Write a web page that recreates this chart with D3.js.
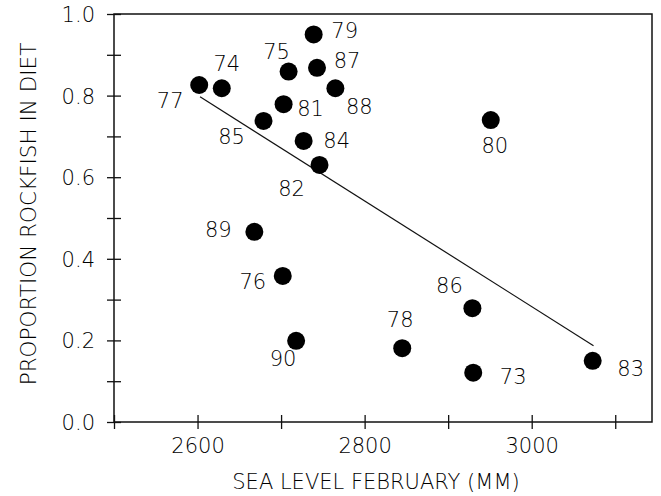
<!DOCTYPE html>
<html>
<head>
<meta charset="utf-8">
<script src="https://cdn.jsdelivr.net/npm/d3@7"></script>
<style>
  html, body { margin: 0; padding: 0; background: #fff; }
  svg text { font-family: "DejaVu Sans", "Liberation Sans", sans-serif; fill: #000; }
</style>
</head>
<body>
<svg id="chart" width="661" height="496"></svg>
<script>
// Year labels and observed values
const years      = ["73","74","75","76","77","78","79","80","81","82","83","84","85","86","87","88","89","90"];
const seaLevel   = [2930, 2629, 2709, 2702, 2602, 2845, 2739, 2951, 2703, 2746, 3073, 2727, 2679, 2929, 2743, 2765, 2668, 2718];
const rockfish   = [0.121, 0.818, 0.859, 0.358, 0.826, 0.181, 0.950, 0.740, 0.779, 0.630, 0.150, 0.689, 0.738, 0.279, 0.868, 0.818, 0.466, 0.199];

// Fitted regression line endpoints
const fitX = [2603, 3074];
const fitY = [0.797, 0.187];

// Axis ticks
const xTicks = [2500, 2600, 2700, 2800, 2900, 3000, 3100];
const xTickLabels = ["2600", "2800", "3000"];
const yTicks = [0.0, 0.1, 0.2, 0.3, 0.4, 0.5, 0.6, 0.7, 0.8, 0.9, 1.0];
const yTickLabels = ["0.0", "0.2", "0.4", "0.6", "0.8", "1.0"];

// Placement of each year label relative to its point (px)
const labelOffset = {
  "73": [40, 4],  "74": [5, -25], "75": [-12, -20], "76": [-30, 6],
  "77": [-29, 15], "78": [-2, -29], "79": [31, -4], "80": [4, 25],
  "81": [27, 4],  "82": [-28, 23], "83": [38, 8], "84": [33, 0],
  "85": [-32, 16], "86": [-23, -23], "87": [30, -7], "88": [24, 18],
  "89": [-36, -2], "90": [-13, 18]
};

const svg = d3.select("#chart");
const plotLeft = 114, plotRight = 652, plotTop = 14, plotBottom = 422;

const x = d3.scaleLinear().domain([2500, 3144]).range([plotLeft, plotRight]);
const y = d3.scaleLinear().domain([0, 1]).range([plotBottom, plotTop]);

// Frame
svg.append("rect")
  .attr("x", plotLeft).attr("y", plotTop)
  .attr("width", plotRight - plotLeft).attr("height", plotBottom - plotTop)
  .attr("fill", "none").attr("stroke", "#111").attr("stroke-width", 1.5);

// Y axis: ticks crossing the axis line
const yAxis = d3.axisLeft(y)
  .tickValues(yTicks)
  .tickSizeOuter(0)
  .tickFormat(() => "");
const gy = svg.append("g").attr("transform", `translate(${plotLeft},0)`).call(yAxis);
gy.select(".domain").remove();
gy.selectAll(".tick line").attr("x1", -7).attr("x2", 7).attr("stroke", "#111").attr("stroke-width", 1.3);
gy.selectAll(".tick text").remove();
gy.selectAll(".tick")
  .filter(d => yTickLabels.includes(d3.format(".1f")(d)))
  .append("text")
  .attr("x", -19).attr("dy", "0.36em")
  .attr("text-anchor", "end")
  .style("font-size", "21px").style("font-weight", 200)
  .text(d => d3.format(".1f")(d));

// X axis
const xAxis = d3.axisBottom(x)
  .tickValues(xTicks)
  .tickSizeOuter(0)
  .tickFormat(() => "");
const gx = svg.append("g").attr("transform", `translate(0,${plotBottom})`).call(xAxis);
gx.select(".domain").remove();
gx.selectAll(".tick line").attr("y1", -7).attr("y2", 7).attr("stroke", "#111").attr("stroke-width", 1.3);
gx.selectAll(".tick text").remove();
gx.selectAll(".tick")
  .filter(d => xTickLabels.includes(String(d)))
  .append("text")
  .attr("y", 31)
  .attr("text-anchor", "middle")
  .style("font-size", "21px").style("font-weight", 200)
  .text(d => String(d));

// Axis titles
svg.append("text")
  .attr("x", 376).attr("y", 489)
  .attr("text-anchor", "middle")
  .style("font-size", "21px").style("font-weight", 200)
  .text("SEA LEVEL FEBRUARY (MM)");

svg.append("text")
  .attr("transform", "translate(36,214) rotate(-90)")
  .attr("text-anchor", "middle")
  .style("font-size", "21.5px").style("font-weight", 200)
  .text("PROPORTION ROCKFISH IN DIET");

// Regression line
svg.append("line")
  .attr("x1", x(fitX[0])).attr("y1", y(fitY[0]))
  .attr("x2", x(fitX[1])).attr("y2", y(fitY[1]))
  .attr("stroke", "#111").attr("stroke-width", 1.2);

// Points
const pts = years.map((yr, i) => ({ yr, sx: seaLevel[i], r: rockfish[i] }));
svg.append("g").selectAll("circle").data(pts).join("circle")
  .attr("cx", d => x(d.sx)).attr("cy", d => y(d.r))
  .attr("r", 9).attr("fill", "#000");

// Year labels
svg.append("g").selectAll("text").data(pts).join("text")
  .attr("x", d => x(d.sx) + labelOffset[d.yr][0])
  .attr("y", d => y(d.r) + labelOffset[d.yr][1])
  .attr("dy", "0.36em")
  .attr("text-anchor", "middle")
  .style("font-size", "21px").style("font-weight", 200)
  .text(d => d.yr);
</script>
</body>
</html>
